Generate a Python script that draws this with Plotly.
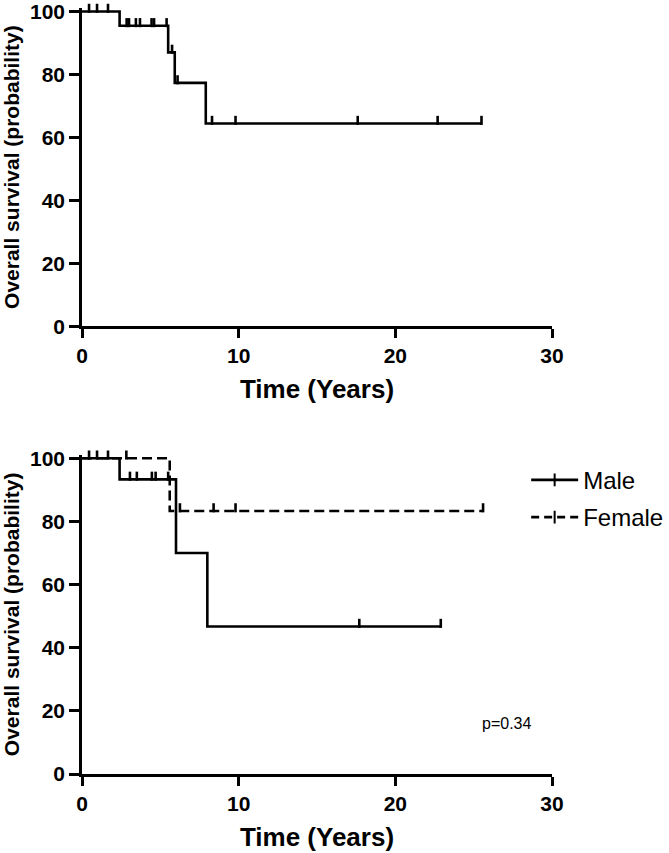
import plotly.graph_objects as go

# ---------------- data ----------------
# Overall (top panel)
all_times = [0, 2.4, 5.5, 5.92, 7.9, 25.5]
all_surv = [100, 95.45, 87.0, 77.3, 64.4, 64.4]
all_censor = [0.45, 0.96, 1.66, 2.85, 3.0, 3.44, 3.7, 4.44, 4.6, 5.4, 5.75, 6.1,
              8.3, 9.8, 17.6, 22.7, 25.5]

# Male (bottom panel)
male_times = [0, 2.4, 6.0, 8.0, 22.9]
male_surv = [100, 93.3, 70.0, 46.7, 46.7]
male_censor = [0.45, 0.96, 1.66, 3.06, 3.5, 4.46, 4.7, 5.5, 17.7, 22.9]

# Female (bottom panel)
female_times = [0, 5.6, 25.6]
female_surv = [100, 83.3, 83.3]
female_censor = [2.83, 6.25, 8.4, 9.8, 25.6]

x_ticks = [0, 10, 20, 30]
y_ticks = [0, 20, 40, 60, 80, 100]
p_text = "p=0.34"

# ---------------- helpers ----------------
TICK_H = 2.0   # censor tick height in data units
TICK_PX = 6.5  # same height in pixels


def surv_at(t, times, surv):
    s = surv[0]
    for ti, si in zip(times, surv):
        if ti <= t:
            s = si
    return s


LW = 2.6
fig = go.Figure()


def add_curve(times, surv, ct, xa, ya, dash="solid"):
    fig.add_trace(go.Scatter(x=times, y=surv, mode="lines", line_shape="hv",
                             line=dict(color="black", width=LW, dash=dash),
                             xaxis=xa, yaxis=ya, showlegend=False, cliponaxis=False,
                             hoverinfo="skip"))
    cy = [surv_at(t, times, surv) + TICK_H / 2 for t in ct]
    fig.add_trace(go.Scatter(x=ct, y=cy, mode="markers",
                             marker=dict(symbol="line-ns", size=TICK_PX,
                                         line=dict(color="black", width=LW)),
                             xaxis=xa, yaxis=ya, showlegend=False, cliponaxis=False,
                             hoverinfo="skip"))


add_curve(all_times, all_surv, all_censor, "x", "y")
add_curve(male_times, male_surv, male_censor, "x2", "y2")
add_curve(female_times, female_surv, female_censor, "x2", "y2", dash="10px,5px")

# legend-only entries
fig.add_trace(go.Scatter(x=[None], y=[None], mode="lines+markers", name="Male",
                         line=dict(color="black", width=LW),
                         marker=dict(symbol="line-ns-open", size=9,
                                     line=dict(color="black", width=2)),
                         xaxis="x2", yaxis="y2", legendgroup="m"))
fig.add_trace(go.Scatter(x=[None], y=[None], mode="lines+markers", name="Female",
                         line=dict(color="black", width=LW, dash="8px,5px"),
                         marker=dict(symbol="line-ns-open", size=9,
                                     line=dict(color="black", width=2)),
                         xaxis="x2", yaxis="y2", legendgroup="f"))

FONT = "Liberation Sans, Arial, Helvetica, sans-serif"

xcommon = dict(range=[0, 30], tickvals=x_ticks, showline=True, linecolor="black",
               linewidth=LW, ticks="outside", ticklen=9, tickwidth=LW,
               tickcolor="black", showgrid=False, zeroline=False, automargin=False,
               ticklabeloverflow="allow",
               tickfont=dict(family=FONT, size=21, color="black", weight="bold"),
               title=dict(text="Time (Years)", standoff=14,
                          font=dict(family=FONT, size=26, color="black", weight="bold")))
ycommon = dict(range=[0, 101.1], tickvals=y_ticks, showline=True, linecolor="black",
               linewidth=LW, ticks="outside", ticklen=10, tickwidth=LW,
               tickcolor="black", showgrid=False, zeroline=False, automargin=False,
               ticklabeloverflow="allow",
               tickfont=dict(family=FONT, size=21, color="black", weight="bold"),
               title=dict(text="Overall survival (probability)", standoff=14,
                          font=dict(family=FONT, size=21, color="black", weight="bold")))

fig.update_layout(
    width=669, height=853,
    margin=dict(l=82, r=117, t=7.5, b=79, autoexpand=False),
    paper_bgcolor="white", plot_bgcolor="white",
    xaxis=dict(domain=[0, 1], anchor="y", **xcommon),
    yaxis=dict(domain=[0.5845, 1.0], anchor="x", **ycommon),
    xaxis2=dict(domain=[0, 1], anchor="y2", **xcommon),
    yaxis2=dict(domain=[0.0, 0.4168], anchor="x2", **ycommon),
    legend=dict(x=0.945, y=0.4128, xanchor="left", yanchor="top",
                font=dict(family=FONT, size=24, color="black"),
                itemwidth=47, tracegroupgap=3, bgcolor="rgba(0,0,0,0)"),
    annotations=[dict(text=p_text, x=27.1, y=15.9, xref="x2", yref="y2",
                      showarrow=False, xanchor="center", yanchor="middle",
                      font=dict(family=FONT, size=16, color="black"))],
)

fig.write_html("out.html", config={"displayModeBar": False},
               post_script="document.body.style.margin='0';document.body.style.overflow='hidden';")
